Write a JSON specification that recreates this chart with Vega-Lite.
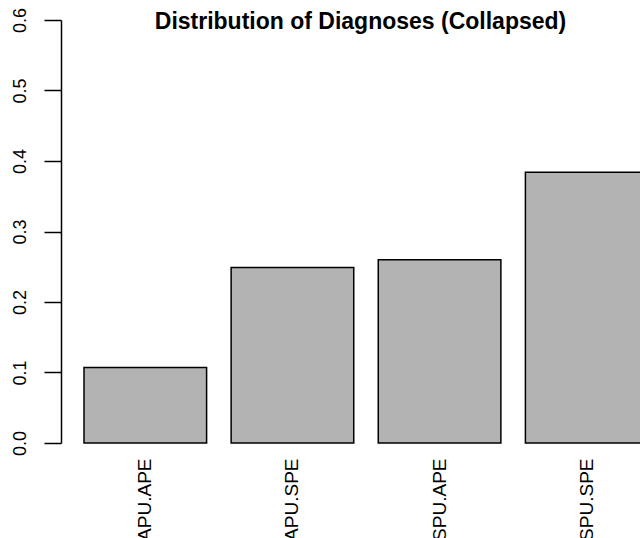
{
  "$schema": "https://vega.github.io/schema/vega-lite/v6.json",
  "autosize": "none",
  "width": 579,
  "height": 423,
  "padding": {"left": 61, "top": 20, "right": 0, "bottom": 95},
  "background": "white",
  "config": {"view": {"stroke": null}, "font": "Liberation Sans"},
  "title": {
    "text": "Distribution of Diagnoses (Collapsed)",
    "font": "Liberation Sans",
    "fontSize": 23,
    "fontWeight": "bold",
    "color": "black",
    "anchor": "middle",
    "baseline": "alphabetic",
    "offset": -34,
    "dx": 10,
    "dy": 11
  },
  "data": {
    "values": [
      {"diagnosis": "APU.APE", "proportion": 0.107},
      {"diagnosis": "APU.SPE", "proportion": 0.249},
      {"diagnosis": "SPU.APE", "proportion": 0.26},
      {"diagnosis": "SPU.SPE", "proportion": 0.384}
    ]
  },
  "mark": {"type": "bar", "fill": "#b3b3b3", "stroke": "black", "strokeWidth": 1.5},
  "encoding": {
    "x": {
      "field": "diagnosis",
      "type": "nominal",
      "sort": null,
      "scale": {"range": [23, 587], "paddingInner": 0.1667, "paddingOuter": 0},
      "axis": {
        "title": null,
        "domain": false,
        "ticks": false,
        "tickSize": 0,
        "labelAngle": 270,
        "labelAlign": "right",
        "labelBaseline": "middle",
        "labelPadding": 15,
        "labelFontSize": 19,
        "labelColor": "black",
        "labelFont": "Liberation Sans"
      }
    },
    "y": {
      "field": "proportion",
      "type": "quantitative",
      "scale": {"domain": [0, 0.6], "nice": false, "zero": true},
      "axis": {
        "title": null,
        "grid": false,
        "values": [0, 0.1, 0.2, 0.3, 0.4, 0.5, 0.6],
        "format": ".1f",
        "domainColor": "black",
        "domainWidth": 1.5,
        "tickColor": "black",
        "tickWidth": 1.5,
        "tickSize": 17,
        "labelAngle": 270,
        "labelAlign": "center",
        "labelBaseline": "alphabetic",
        "labelPadding": 19,
        "labelFontSize": 18,
        "labelColor": "black",
        "labelFont": "Liberation Sans"
      }
    }
  }
}
